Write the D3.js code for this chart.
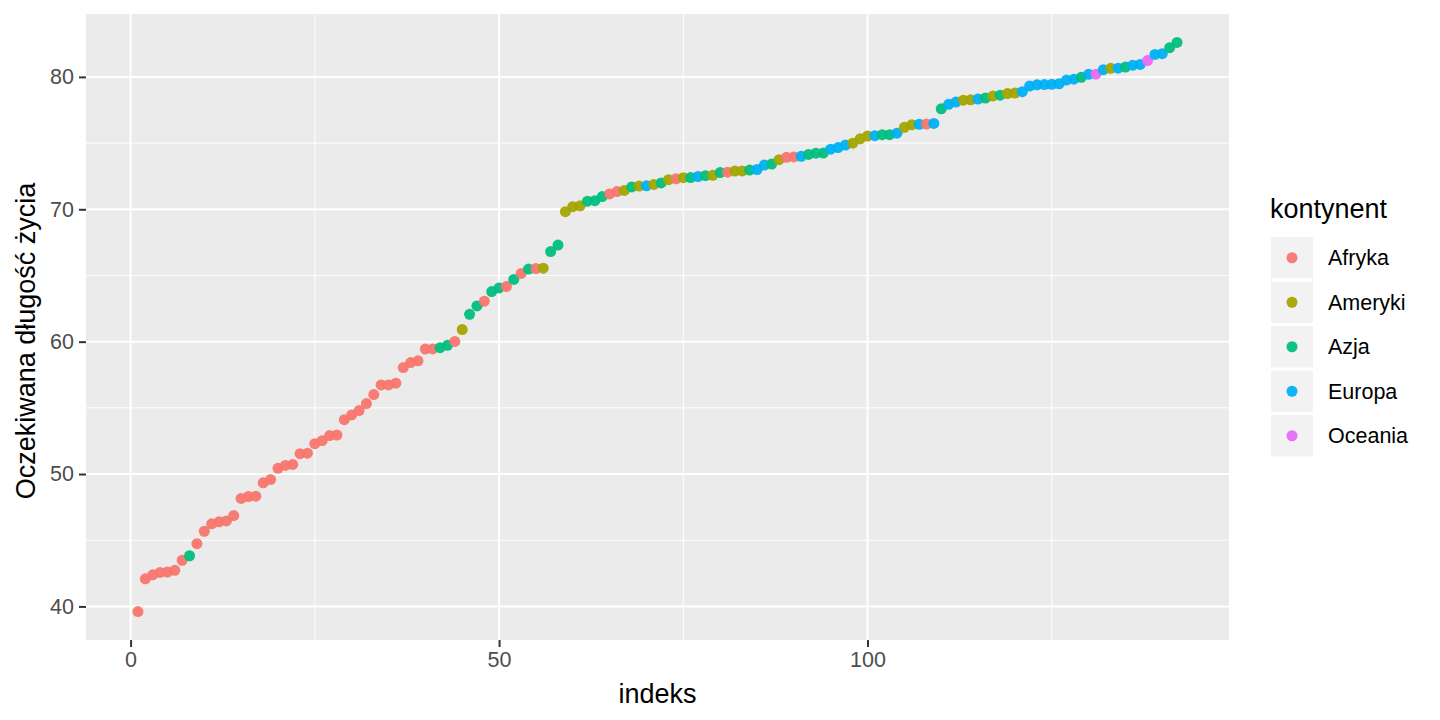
<!DOCTYPE html>
<html><head><meta charset="utf-8">
<script src="https://cdn.jsdelivr.net/npm/d3@7"></script>
<style>body{margin:0;background:#fff;font-family:"Liberation Sans",Arial,sans-serif}</style>
</head><body><svg id="c" width="1440" height="720"></svg>
<script>
// Gapminder 2007, countries sorted by life expectancy
const lifeExp = [39.613,42.082,42.384,42.568,42.592,42.731,43.487,43.828,44.741,45.678,
46.242,46.388,46.462,46.859,48.159,48.303,48.328,49.339,49.580,50.430,
50.651,50.728,51.542,51.579,52.295,52.517,52.906,52.947,54.110,54.467,
54.791,55.322,56.007,56.728,56.735,56.867,58.040,58.420,58.556,59.443,
59.448,59.545,59.723,60.022,60.916,62.069,62.698,63.062,63.785,64.062,
64.164,64.698,65.152,65.483,65.528,65.554,66.803,67.297,69.819,70.198,
70.259,70.616,70.650,70.964,71.164,71.338,71.421,71.688,71.752,71.777,
71.878,71.993,72.235,72.301,72.390,72.396,72.476,72.535,72.567,72.777,
72.801,72.889,72.899,72.961,73.005,73.338,73.422,73.747,73.923,73.952,
74.002,74.143,74.241,74.249,74.543,74.663,74.852,74.994,75.320,75.537,
75.563,75.635,75.640,75.748,76.195,76.384,76.423,76.442,76.486,77.588,
77.926,78.098,78.242,78.273,78.332,78.400,78.553,78.623,78.746,78.782,
78.885,79.313,79.406,79.425,79.441,79.483,79.762,79.829,79.972,80.196,
80.204,80.546,80.653,80.657,80.745,80.884,80.941,81.235,81.701,81.757,
82.208,82.603];
const continent = [
"Afryka","Afryka","Afryka","Afryka","Afryka","Afryka","Afryka","Azja","Afryka","Afryka",
"Afryka","Afryka","Afryka","Afryka","Afryka","Afryka","Afryka","Afryka","Afryka","Afryka",
"Afryka","Afryka","Afryka","Afryka","Afryka","Afryka","Afryka","Afryka","Afryka","Afryka",
"Afryka","Afryka","Afryka","Afryka","Afryka","Afryka","Afryka","Afryka","Afryka","Afryka",
"Afryka","Azja","Azja","Afryka","Ameryki","Azja","Azja","Afryka","Azja","Azja",
"Afryka","Azja","Afryka","Azja","Afryka","Ameryki","Azja","Azja","Ameryki","Ameryki",
"Ameryki","Azja","Azja","Azja","Afryka","Afryka","Ameryki","Azja","Ameryki","Europa",
"Ameryki","Azja","Ameryki","Afryka","Ameryki","Azja","Europa","Azja","Ameryki","Azja",
"Afryka","Ameryki","Ameryki","Azja","Europa","Europa","Azja","Ameryki","Afryka","Afryka",
"Europa","Azja","Azja","Azja","Europa","Europa","Europa","Ameryki","Ameryki","Ameryki",
"Europa","Azja","Azja","Europa","Ameryki","Ameryki","Europa","Afryka","Europa","Azja",
"Europa","Europa","Ameryki","Ameryki","Europa","Azja","Ameryki","Azja","Ameryki","Ameryki",
"Europa","Europa","Europa","Europa","Europa","Europa","Europa","Europa","Azja","Europa",
"Oceania","Europa","Ameryki","Europa","Azja","Europa","Europa","Oceania","Europa","Europa",
"Azja","Azja"];
const continents = ["Afryka","Ameryki","Azja","Europa","Oceania"];
const colors = ["#F8766D","#A3A500","#00BF7D","#00B0F6","#E76BF3"];
const xTicks = [0,50,100];
const yTicks = [40,50,60,70,80];

const data = lifeExp.map((v,i)=>({idx:i+1, v, c:continent[i]}));
const svg = d3.select("#c");
const P = {l:86, r:1229, t:14, b:640};
const xr = d3.extent(data,d=>d.idx), yr = d3.extent(data,d=>d.v);
const xe = (xr[1]-xr[0])*0.05, ye = (yr[1]-yr[0])*0.05;
const x = d3.scaleLinear().domain([xr[0]-xe, xr[1]+xe]).range([P.l,P.r]);
const y = d3.scaleLinear().domain([yr[0]-ye, yr[1]+ye]).range([P.b,P.t]);
const col = d3.scaleOrdinal().domain(continents).range(colors);

svg.append("rect").attr("x",P.l).attr("y",P.t).attr("width",P.r-P.l).attr("height",P.b-P.t).attr("fill","#EBEBEB");
const g = svg.append("g");
// minor grid
const xMinor = [25,75,125], yMinor = [45,55,65,75];
g.selectAll(".xm").data(xMinor).join("line").attr("x1",d=>x(d)).attr("x2",d=>x(d)).attr("y1",P.t).attr("y2",P.b).attr("stroke","#fff").attr("stroke-width",1);
g.selectAll(".ym").data(yMinor).join("line").attr("y1",d=>y(d)).attr("y2",d=>y(d)).attr("x1",P.l).attr("x2",P.r).attr("stroke","#fff").attr("stroke-width",1);
g.selectAll(".xM").data(xTicks).join("line").attr("x1",d=>x(d)).attr("x2",d=>x(d)).attr("y1",P.t).attr("y2",P.b).attr("stroke","#fff").attr("stroke-width",2);
g.selectAll(".yM").data(yTicks).join("line").attr("y1",d=>y(d)).attr("y2",d=>y(d)).attr("x1",P.l).attr("x2",P.r).attr("stroke","#fff").attr("stroke-width",2);

// axes
const xa = svg.append("g").attr("transform",`translate(0,${P.b})`).call(d3.axisBottom(x).tickValues(xTicks).tickSize(7).tickPadding(5));
const ya = svg.append("g").attr("transform",`translate(${P.l},0)`).call(d3.axisLeft(y).tickValues(yTicks).tickSize(7).tickPadding(5));
[xa,ya].forEach(a=>{
  a.select(".domain").remove();
  a.selectAll(".tick line").attr("stroke","#333").attr("stroke-width",2);
  a.selectAll(".tick text").attr("fill","#4D4D4D").style("font-size","21.5px").style("font-family","Liberation Sans, Arial, sans-serif");
});

// points
svg.append("g").selectAll("circle").data(data).join("circle")
  .attr("cx",d=>x(d.idx)).attr("cy",d=>y(d.v)).attr("r",5.5).attr("fill",d=>col(d.c)).attr("fill-opacity",0.95);

// axis titles
svg.append("text").attr("x",(P.l+P.r)/2).attr("y",703).attr("text-anchor","middle").style("font-size","27px").attr("fill","#000").text("indeks");
svg.append("text").attr("transform",`translate(35,341) rotate(-90)`).attr("text-anchor","middle").style("font-size","27px").attr("fill","#000").text("Oczekiwana długość życia");

// legend
const L = svg.append("g");
L.append("text").attr("x",1270).attr("y",218).style("font-size","27px").attr("fill","#000").text("kontynent");
continents.forEach((c,i)=>{
  const yy = 237 + i*44.5;
  L.append("rect").attr("x",1271).attr("y",yy).attr("width",42).attr("height",41.5).attr("fill","#F2F2F2");
  L.append("circle").attr("cx",1292).attr("cy",yy+20.75).attr("r",5.5).attr("fill",col(c)).attr("fill-opacity",0.95);
  L.append("text").attr("x",1328).attr("y",yy+20.75).attr("dy","0.36em").style("font-size","21.5px").attr("fill","#000").text(c);
});
</script></body></html>
